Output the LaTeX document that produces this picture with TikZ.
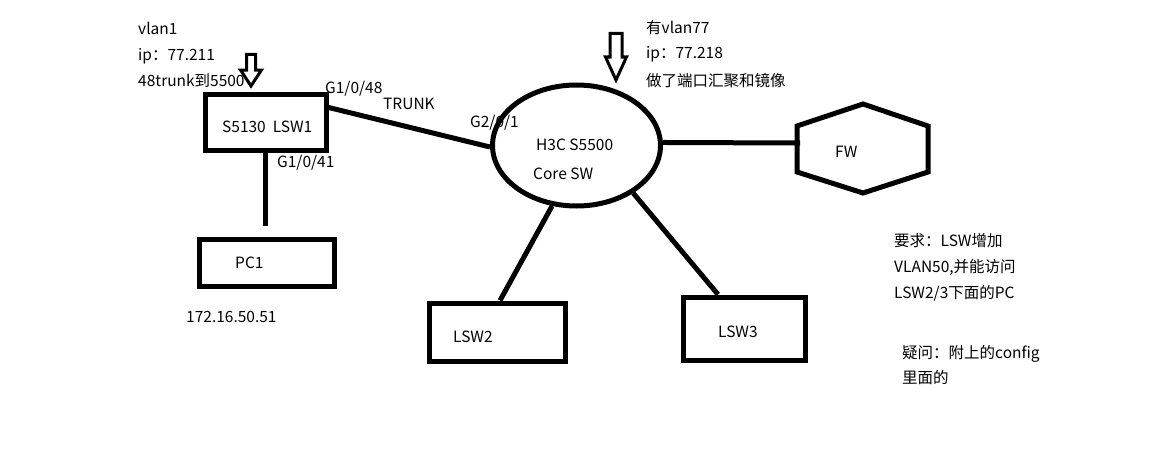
\documentclass[tikz,border=0pt]{standalone}
\usepackage{fontspec}
\setmainfont{Noto Sans CJK SC}
\usepackage{tikz}
\usetikzlibrary{shapes,positioning,calc}

\tikzset{
    box/.style={draw, line width=5pt, inner sep=0pt},
    link/.style={line width=5pt},
    lbl/.style={anchor=base west, inner sep=0pt, font=\fontsize{15.5}{18}\selectfont},
    hollow/.style={line width=3pt, line join=miter}
}

\begin{document}
\begin{tikzpicture}[x=1pt, y=-1pt]
    \useasboundingbox[fill=white] (0,0) rectangle (1155,460);

    % devices
    \node[box, minimum width=121pt, minimum height=56pt] (lsw1) at (265.5,122) {};
    \node[box, minimum width=135pt, minimum height=47pt] (pc1) at (266.5,262.5) {};
    \node[box, ellipse, minimum width=168pt, minimum height=121pt] (core) at (576.5,145.5) {};
    \node[box, minimum width=136pt, minimum height=58pt] (lsw2) at (497,332) {};
    \node[box, minimum width=122pt, minimum height=63pt] (lsw3) at (744,328.5) {};
    \draw[link] (797,126) -- (863,104) -- (928,126) -- (928,172) -- (863,193) -- (797,172) -- cycle;
    \coordinate (fwin) at (800,143);

    % texts in the devices
    \node[lbl] (lsw1txt) at (222,132) {S5130\ \ LSW1};
    \node[lbl] (pc1txt) at (235,268) {PC1};
    \node[lbl] (coretxt) at (536,150) {H3C S5500};
    \node[lbl] (coresw) at (533,179) {Core SW};
    \node[lbl] (lsw2txt) at (453,342) {LSW2};
    \node[lbl] (lsw3txt) at (718,337) {LSW3};
    \node[lbl] (fw) at (835,157) {FW};

    % links
    \draw[link] (lsw1.13) -- (core.181);
    \draw[link] (lsw1.south) -- ([yshift=11pt]pc1.north -| lsw1.south);
    \draw[link] (core.2) -- (fwin);
    \draw[link] (core.248) -- ([xshift=3pt]lsw2.north);
    \draw[link] (core.320) -- ([xshift=-26pt]lsw3.north);

    % port labels
    \node[lbl] (p48) at (325,93) {G1/0/48};
    \node[lbl] (trunk) at (383,109) {TRUNK};
    \node[lbl] (p201) at (470,127) {G2/0/1};
    \node[lbl] (p41) at (277,167) {G1/0/41};
    \node[lbl] (pcip) at (186,322) {172.16.50.51};

    % notes
    \node[lbl] (n1) at (138,35) {vlan1};
    \node[lbl] (n2) at (138,60) {ip：77.211};
    \node[lbl] (n3) at (138,86) {48trunk到5500};
    \node[lbl] (m1) at (646,34) {有vlan77};
    \node[lbl] (m2) at (646,59) {ip：77.218};
    \node[lbl] (m3) at (646,86) {做了端口汇聚和镜像};
    \node[lbl] (r1) at (894,246) {要求：LSW增加};
    \node[lbl] (r2) at (894,272) {VLAN50,并能访问};
    \node[lbl] (r3) at (894,298) {LSW2/3下面的PC};
    \node[lbl] (q1) at (902,358) {疑问：附上的config};
    \node[lbl] (q2) at (902,383) {里面的};

    % hollow arrows
    \draw[hollow] (246.5,54.5) -- (255.5,54.5) -- (255.5,70) -- (261.5,70) -- (251,86)
        -- (240.5,70) -- (246.5,70) -- cycle;
    \draw[hollow] (610,33.5) -- (622,33.5) -- (622,57) -- (626.5,57) -- (616,80)
        -- (605.5,57) -- (610,57) -- cycle;
\end{tikzpicture}
\end{document}
